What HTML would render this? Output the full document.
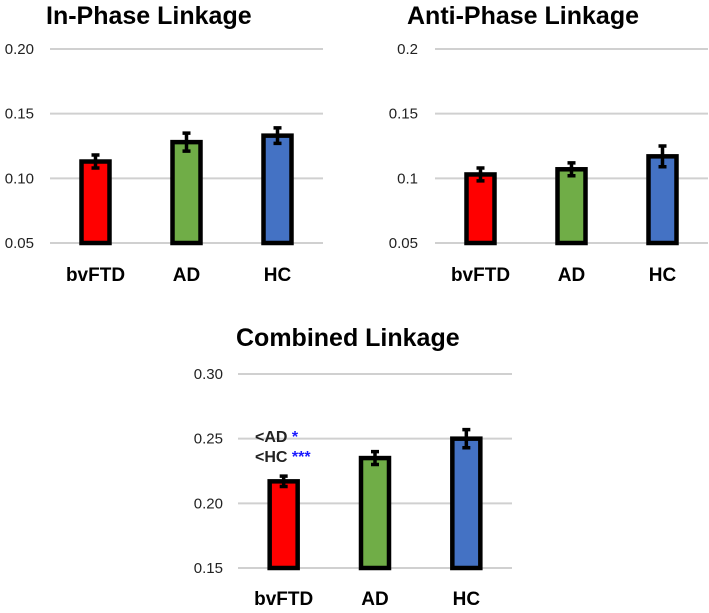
<!DOCTYPE html>
<html><head><meta charset="utf-8"><style>
body{margin:0;background:#fff;}
svg text{font-family:"Liberation Sans",Calibri,sans-serif;}
</style></head><body>
<svg width="709" height="608" viewBox="0 0 709 608">
<g id="root"></g>
</svg>
<script>
const categories = ["bvFTD","AD","HC"];
const colors = ["#ff0000","#70ad47","#4472c4"];
const inPhaseValues = [0.113,0.128,0.133];
const inPhaseErrors = [0.005,0.007,0.006];
const inPhaseTicks = ["0.05","0.10","0.15","0.20"];
const antiPhaseValues = [0.103,0.107,0.117];
const antiPhaseErrors = [0.005,0.005,0.008];
const antiPhaseTicks = ["0.05","0.1","0.15","0.2"];
const combinedValues = [0.217,0.235,0.250];
const combinedErrors = [0.004,0.005,0.007];
const combinedTicks = ["0.15","0.20","0.25","0.30"];

const NS="http://www.w3.org/2000/svg";
const root=document.getElementById('root');
function mk(tag,attrs,parent,text){const e=document.createElementNS(NS,tag);for(const k in attrs)e.setAttribute(k,attrs[k]);if(text!==undefined)e.textContent=text;(parent||root).appendChild(e);return e;}

function chart(cfg){
  const g=mk('g',{});
  
  
  const t=mk('text',{x:cfg.titleX,y:cfg.titleY,'font-size':25,'font-weight':'bold',fill:'#000'},g,cfg.title);
  
  
  const ticks=cfg.ticks.map(Number);
  const lo=ticks[0],hi=ticks[ticks.length-1];
  const y=v=>cfg.yBottom-(v-lo)/(hi-lo)*(cfg.yBottom-cfg.yTop);
  cfg.ticks.forEach(tk=>{
    const yy=y(Number(tk));
    const l=mk('line',{x1:cfg.x0,x2:cfg.x1,y1:yy,y2:yy,stroke:'#d0d0d0','stroke-width':2},g);
    
    
    const tx=mk('text',{x:cfg.labelX,y:yy+5,'font-size':15,fill:'#222','text-anchor':'end'},g,tk);
    
    
  });
  const n=categories.length,bw=28;
  const step=(cfg.x1-cfg.x0)/n;
  const x=i=>cfg.x0+step*(i+0.5);
  cfg.values.forEach((v,i)=>{
    const cx=x(i),top=y(v);
    const r=mk('rect',{x:cx-bw/2,y:top,width:bw,height:cfg.yBottom-top,fill:colors[i],stroke:'#000','stroke-width':4.5},g);
    
    
    const e=cfg.errors[i],y1=y(v+e),y2=y(v-e);
    const eb=mk('path',{d:`M${cx},${y1}V${y2}M${cx-4},${y1}H${cx+4}M${cx-4},${y2}H${cx+4}`,stroke:'#000','stroke-width':3.5,fill:'none'},g);
    
    
    const lb=mk('text',{x:cx,y:cfg.catY,'font-size':19,'font-weight':'bold','text-anchor':'middle',fill:'#000'},g,categories[i]);
    
    
  });
  return g;
}
chart({name:'in-phase-chart',title:'In-Phase Linkage',titleX:46,titleY:24,ticks:inPhaseTicks,values:inPhaseValues,errors:inPhaseErrors,x0:50,x1:323,yTop:49,yBottom:243,labelX:34,catY:281});
chart({name:'anti-phase-chart',title:'Anti-Phase Linkage',titleX:407,titleY:24,ticks:antiPhaseTicks,values:antiPhaseValues,errors:antiPhaseErrors,x0:435,x1:708,yTop:49,yBottom:243,labelX:418,catY:281});
chart({name:'combined-chart',title:'Combined Linkage',titleX:236,titleY:346,ticks:combinedTicks,values:combinedValues,errors:combinedErrors,x0:238,x1:512,yTop:374,yBottom:568,labelX:223,catY:605});
const a1=mk('text',{x:255,y:442,'font-size':16,'font-weight':'bold',fill:'#222'});


a1.innerHTML='&lt;AD <tspan fill="#1a1aff">*</tspan>';
const a2=mk('text',{x:255,y:462,'font-size':16,'font-weight':'bold',fill:'#222'});


a2.innerHTML='&lt;HC <tspan fill="#1a1aff">***</tspan>';
</script>
</body></html>
